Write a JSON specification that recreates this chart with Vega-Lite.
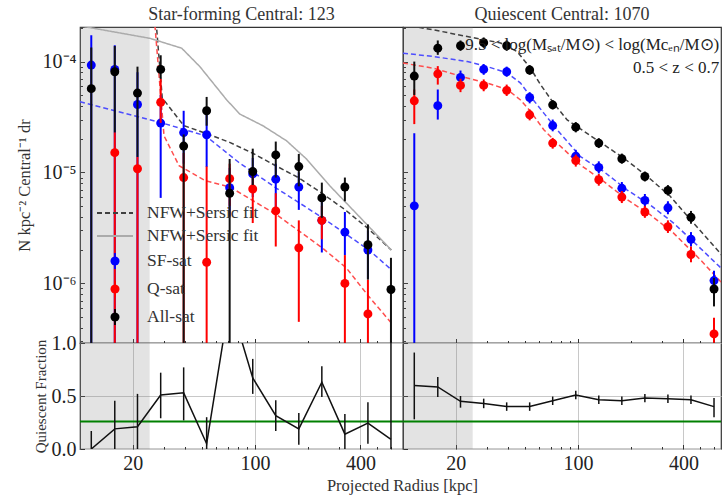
{
"$schema": "https://vega.github.io/schema/vega-lite/v6.json",
"padding": {"left": 15, "top": 5, "right": 0, "bottom": 0},
"datasets": {
"shade": [{"r1": 10, "r2": 25}],
"qfall": [{"panel": "SF", "f": 0.26}, {"panel": "Q", "f": 0.26}],
"pts": [
{"panel":"SF","series":"All-sat","r":11.6,"n":5.7e-5,"lo":1e-8,"hi":1.34e-4},
{"panel":"SF","series":"All-sat","r":15.8,"n":8.1e-5,"lo":2.3e-5,"hi":1.38e-4},
{"panel":"SF","series":"All-sat","r":21.3,"n":5.2e-5,"lo":1.38e-5,"hi":9.0e-5},
{"panel":"SF","series":"All-sat","r":28.9,"n":8.5e-5,"lo":7.0e-5,"hi":1.14e-4},
{"panel":"SF","series":"All-sat","r":39.1,"n":1.73e-5,"lo":1e-8,"hi":2.2e-5},
{"panel":"SF","series":"All-sat","r":52.9,"n":3.6e-5,"lo":2.64e-5,"hi":4.8e-5},
{"panel":"SF","series":"All-sat","r":71.6,"n":6.5e-6,"lo":1e-8,"hi":1.32e-5},
{"panel":"SF","series":"All-sat","r":97.0,"n":1.02e-5,"lo":7.7e-6,"hi":1.64e-5},
{"panel":"SF","series":"All-sat","r":131.3,"n":1.44e-5,"lo":9.0e-6,"hi":1.9e-5},
{"panel":"SF","series":"All-sat","r":177.8,"n":1.13e-5,"lo":7.5e-6,"hi":1.47e-5},
{"panel":"SF","series":"All-sat","r":240.7,"n":5.9e-6,"lo":3.9e-6,"hi":8.1e-6},
{"panel":"SF","series":"All-sat","r":325.9,"n":7.4e-6,"lo":5.5e-6,"hi":9.0e-6},
{"panel":"SF","series":"All-sat","r":441.3,"n":2.23e-6,"lo":1.08e-6,"hi":3.4e-6},
{"panel":"SF","series":"All-sat","r":597.5,"n":8.8e-7,"lo":1e-8,"hi":1.7e-6},
{"panel":"SF","series":"SF-sat","r":11.6,"n":9.3e-5,"lo":1e-8,"hi":1.73e-4},
{"panel":"SF","series":"SF-sat","r":15.8,"n":8.5e-5,"lo":1e-8,"hi":1.4e-4},
{"panel":"SF","series":"SF-sat","r":21.3,"n":4.1e-5,"lo":1e-8,"hi":8.0e-5},
{"panel":"SF","series":"SF-sat","r":28.9,"n":2.79e-5,"lo":5.9e-6,"hi":5.0e-5},
{"panel":"SF","series":"SF-sat","r":39.1,"n":2.29e-5,"lo":1.2e-5,"hi":3.6e-5},
{"panel":"SF","series":"SF-sat","r":52.9,"n":2.19e-5,"lo":1.12e-5,"hi":3.3e-5},
{"panel":"SF","series":"SF-sat","r":71.6,"n":7.3e-6,"lo":4.0e-6,"hi":1.1e-5},
{"panel":"SF","series":"SF-sat","r":97.0,"n":9.7e-6,"lo":6.0e-6,"hi":1.35e-5},
{"panel":"SF","series":"SF-sat","r":131.3,"n":8.7e-6,"lo":4.6e-6,"hi":1.2e-5},
{"panel":"SF","series":"SF-sat","r":177.8,"n":7.4e-6,"lo":4.6e-6,"hi":1.0e-5},
{"panel":"SF","series":"SF-sat","r":240.7,"n":3.7e-6,"lo":1.9e-6,"hi":5.5e-6},
{"panel":"SF","series":"SF-sat","r":325.9,"n":2.9e-6,"lo":1.8e-6,"hi":4.4e-6},
{"panel":"SF","series":"SF-sat","r":441.3,"n":2.0e-6,"lo":1.1e-6,"hi":3.0e-6},
{"panel":"SF","series":"Q-sat","r":15.8,"n":1.51e-5,"lo":1e-8,"hi":2.3e-5},
{"panel":"SF","series":"Q-sat","r":21.3,"n":1.08e-5,"lo":1e-8,"hi":1.38e-5},
{"panel":"SF","series":"Q-sat","r":28.9,"n":4.3e-5,"lo":2.8e-5,"hi":7.0e-5},
{"panel":"SF","series":"Q-sat","r":39.1,"n":9.0e-6,"lo":1e-8,"hi":1.5e-5},
{"panel":"SF","series":"Q-sat","r":52.9,"n":1.55e-6,"lo":1e-8,"hi":1.13e-5},
{"panel":"SF","series":"Q-sat","r":71.6,"n":8.8e-6,"lo":5.0e-6,"hi":1.2e-5},
{"panel":"SF","series":"Q-sat","r":97.0,"n":7.1e-6,"lo":3.5e-6,"hi":1.0e-5},
{"panel":"SF","series":"Q-sat","r":131.3,"n":4.5e-6,"lo":2.15e-6,"hi":6.5e-6},
{"panel":"SF","series":"Q-sat","r":177.8,"n":2.09e-6,"lo":4.5e-7,"hi":3.7e-6},
{"panel":"SF","series":"Q-sat","r":240.7,"n":3.7e-6,"lo":2.5e-6,"hi":5.0e-6},
{"panel":"SF","series":"Q-sat","r":325.9,"n":1.0e-6,"lo":1e-8,"hi":1.8e-6},
{"panel":"SF","series":"Q-sat","r":441.3,"n":5.3e-7,"lo":1e-8,"hi":1.08e-6},
{"panel":"Q","series":"All-sat","r":11.6,"n":7.4e-5,"lo":5.0e-5,"hi":1.0e-4},
{"panel":"Q","series":"All-sat","r":15.8,"n":1.32e-4,"lo":1.15e-4,"hi":1.55e-4},
{"panel":"Q","series":"All-sat","r":21.3,"n":1.39e-4,"lo":1.25e-4,"hi":1.55e-4},
{"panel":"Q","series":"All-sat","r":28.9,"n":1.48e-4,"lo":1.33e-4,"hi":1.65e-4},
{"panel":"Q","series":"All-sat","r":39.1,"n":1.39e-4,"lo":1.25e-4,"hi":1.55e-4},
{"panel":"Q","series":"All-sat","r":52.9,"n":8.4e-5,"lo":7.6e-5,"hi":9.3e-5},
{"panel":"Q","series":"All-sat","r":71.6,"n":4.07e-5,"lo":3.7e-5,"hi":4.5e-5},
{"panel":"Q","series":"All-sat","r":97.0,"n":2.56e-5,"lo":2.3e-5,"hi":2.85e-5},
{"panel":"Q","series":"All-sat","r":131.3,"n":1.84e-5,"lo":1.66e-5,"hi":2.04e-5},
{"panel":"Q","series":"All-sat","r":177.8,"n":1.33e-5,"lo":1.2e-5,"hi":1.48e-5},
{"panel":"Q","series":"All-sat","r":240.7,"n":9.2e-6,"lo":8.3e-6,"hi":1.02e-5},
{"panel":"Q","series":"All-sat","r":325.9,"n":6.9e-6,"lo":6.2e-6,"hi":7.7e-6},
{"panel":"Q","series":"All-sat","r":441.3,"n":3.94e-6,"lo":3.45e-6,"hi":4.5e-6},
{"panel":"Q","series":"All-sat","r":597.5,"n":8.9e-7,"lo":6.2e-7,"hi":1.12e-6},
{"panel":"Q","series":"SF-sat","r":11.6,"n":5.0e-6,"lo":1e-8,"hi":2.26e-5},
{"panel":"Q","series":"SF-sat","r":15.8,"n":4.0e-5,"lo":3.0e-5,"hi":5.6e-5},
{"panel":"Q","series":"SF-sat","r":21.3,"n":7.2e-5,"lo":6.2e-5,"hi":8.3e-5},
{"panel":"Q","series":"SF-sat","r":28.9,"n":8.5e-5,"lo":7.6e-5,"hi":9.5e-5},
{"panel":"Q","series":"SF-sat","r":39.1,"n":8.1e-5,"lo":7.3e-5,"hi":9.0e-5},
{"panel":"Q","series":"SF-sat","r":52.9,"n":4.74e-5,"lo":4.2e-5,"hi":5.3e-5},
{"panel":"Q","series":"SF-sat","r":71.6,"n":2.65e-5,"lo":2.35e-5,"hi":3.0e-5},
{"panel":"Q","series":"SF-sat","r":97.0,"n":1.4e-5,"lo":1.22e-5,"hi":1.6e-5},
{"panel":"Q","series":"SF-sat","r":131.3,"n":1.11e-5,"lo":9.8e-6,"hi":1.26e-5},
{"panel":"Q","series":"SF-sat","r":177.8,"n":7.2e-6,"lo":6.3e-6,"hi":8.2e-6},
{"panel":"Q","series":"SF-sat","r":240.7,"n":5.6e-6,"lo":4.9e-6,"hi":6.4e-6},
{"panel":"Q","series":"SF-sat","r":325.9,"n":4.8e-6,"lo":4.2e-6,"hi":5.5e-6},
{"panel":"Q","series":"SF-sat","r":441.3,"n":2.5e-6,"lo":2.15e-6,"hi":2.9e-6},
{"panel":"Q","series":"SF-sat","r":597.5,"n":1.06e-6,"lo":9.7e-7,"hi":1.3e-6},
{"panel":"Q","series":"Q-sat","r":11.6,"n":4.43e-5,"lo":2.73e-5,"hi":5.6e-5},
{"panel":"Q","series":"Q-sat","r":15.8,"n":7.75e-5,"lo":6.2e-5,"hi":9.1e-5},
{"panel":"Q","series":"Q-sat","r":21.3,"n":6.1e-5,"lo":5.3e-5,"hi":7.0e-5},
{"panel":"Q","series":"Q-sat","r":28.9,"n":6.1e-5,"lo":5.4e-5,"hi":6.9e-5},
{"panel":"Q","series":"Q-sat","r":39.1,"n":5.5e-5,"lo":4.9e-5,"hi":6.2e-5},
{"panel":"Q","series":"Q-sat","r":52.9,"n":3.31e-5,"lo":2.95e-5,"hi":3.7e-5},
{"panel":"Q","series":"Q-sat","r":71.6,"n":1.84e-5,"lo":1.64e-5,"hi":2.05e-5},
{"panel":"Q","series":"Q-sat","r":97.0,"n":1.28e-5,"lo":1.13e-5,"hi":1.45e-5},
{"panel":"Q","series":"Q-sat","r":131.3,"n":8.6e-6,"lo":7.6e-6,"hi":9.7e-6},
{"panel":"Q","series":"Q-sat","r":177.8,"n":6.0e-6,"lo":5.3e-6,"hi":6.8e-6},
{"panel":"Q","series":"Q-sat","r":240.7,"n":4.4e-6,"lo":3.9e-6,"hi":5.0e-6},
{"panel":"Q","series":"Q-sat","r":325.9,"n":3.24e-6,"lo":2.85e-6,"hi":3.7e-6},
{"panel":"Q","series":"Q-sat","r":441.3,"n":1.82e-6,"lo":1.55e-6,"hi":2.15e-6},
{"panel":"Q","series":"Q-sat","r":597.5,"n":3.5e-7,"lo":1e-8,"hi":4.9e-7}
],
"fits": [
{"panel":"SF","series":"NFW+Sersic fit","r":25,"n":1.2e-3},
{"panel":"SF","series":"NFW+Sersic fit","r":29.5,"n":4.7e-5},
{"panel":"SF","series":"NFW+Sersic fit","r":39.1,"n":2.65e-5},
{"panel":"SF","series":"NFW+Sersic fit","r":52.9,"n":2.24e-5},
{"panel":"SF","series":"NFW+Sersic fit","r":71.6,"n":1.87e-5},
{"panel":"SF","series":"NFW+Sersic fit","r":97.0,"n":1.49e-5},
{"panel":"SF","series":"NFW+Sersic fit","r":131.3,"n":1.15e-5},
{"panel":"SF","series":"NFW+Sersic fit","r":177.8,"n":8.95e-6},
{"panel":"SF","series":"NFW+Sersic fit","r":240.7,"n":6.5e-6},
{"panel":"SF","series":"NFW+Sersic fit","r":325.9,"n":4.63e-6},
{"panel":"SF","series":"NFW+Sersic fit","r":441.3,"n":3.13e-6},
{"panel":"SF","series":"NFW+Sersic fit","r":600,"n":2.0e-6},
{"panel":"SF","series":"NFW+Sersic fit ","r":10,"n":2.1e-4},
{"panel":"SF","series":"NFW+Sersic fit ","r":25.1,"n":1.62e-4},
{"panel":"SF","series":"NFW+Sersic fit ","r":38.1,"n":1.32e-4},
{"panel":"SF","series":"NFW+Sersic fit ","r":48.4,"n":9.0e-5},
{"panel":"SF","series":"NFW+Sersic fit ","r":68.8,"n":4.52e-5},
{"panel":"SF","series":"NFW+Sersic fit ","r":81.9,"n":3.36e-5},
{"panel":"SF","series":"NFW+Sersic fit ","r":111.3,"n":2.63e-5},
{"panel":"SF","series":"NFW+Sersic fit ","r":151.3,"n":1.93e-5},
{"panel":"SF","series":"NFW+Sersic fit ","r":197,"n":1.32e-5},
{"panel":"SF","series":"NFW+Sersic fit ","r":267,"n":7.6e-6},
{"panel":"SF","series":"NFW+Sersic fit ","r":600,"n":2.0e-6},
{"panel":"SF","series":"SF fit","r":10,"n":4.34e-5},
{"panel":"SF","series":"SF fit","r":28.9,"n":2.82e-5},
{"panel":"SF","series":"SF fit","r":52.2,"n":2.14e-5},
{"panel":"SF","series":"SF fit","r":80.9,"n":1.23e-5},
{"panel":"SF","series":"SF fit","r":132.7,"n":7.2e-6},
{"panel":"SF","series":"SF fit","r":243,"n":3.9e-6},
{"panel":"SF","series":"SF fit","r":447,"n":2.0e-6},
{"panel":"SF","series":"SF fit","r":600,"n":1.33e-6},
{"panel":"SF","series":"Q fit","r":25,"n":8e-4},
{"panel":"SF","series":"Q fit","r":26.8,"n":2.1e-4},
{"panel":"SF","series":"Q fit","r":30.2,"n":2.14e-5},
{"panel":"SF","series":"Q fit","r":36.8,"n":1.15e-5},
{"panel":"SF","series":"Q fit","r":52.2,"n":8.4e-6},
{"panel":"SF","series":"Q fit","r":71.9,"n":7.4e-6},
{"panel":"SF","series":"Q fit","r":132.7,"n":4.16e-6},
{"panel":"SF","series":"Q fit","r":243,"n":2.08e-6},
{"panel":"SF","series":"Q fit","r":332,"n":1.38e-6},
{"panel":"SF","series":"Q fit","r":447,"n":7.6e-7},
{"panel":"SF","series":"Q fit","r":600,"n":4.4e-7},
{"panel":"Q","series":"NFW+Sersic fit","r":10,"n":2.15e-4},
{"panel":"Q","series":"NFW+Sersic fit","r":15.0,"n":1.93e-4},
{"panel":"Q","series":"NFW+Sersic fit","r":23.3,"n":1.68e-4},
{"panel":"Q","series":"NFW+Sersic fit","r":36.1,"n":1.47e-4},
{"panel":"Q","series":"NFW+Sersic fit","r":44.9,"n":1.23e-4},
{"panel":"Q","series":"NFW+Sersic fit","r":53.5,"n":8.7e-5},
{"panel":"Q","series":"NFW+Sersic fit","r":61.0,"n":6.2e-5},
{"panel":"Q","series":"NFW+Sersic fit","r":72.6,"n":4.2e-5},
{"panel":"Q","series":"NFW+Sersic fit","r":86.6,"n":2.98e-5},
{"panel":"Q","series":"NFW+Sersic fit","r":134,"n":1.87e-5},
{"panel":"Q","series":"NFW+Sersic fit","r":182,"n":1.35e-5},
{"panel":"Q","series":"NFW+Sersic fit","r":247,"n":9.3e-6},
{"panel":"Q","series":"NFW+Sersic fit","r":336,"n":6.1e-6},
{"panel":"Q","series":"NFW+Sersic fit","r":456,"n":3.5e-6},
{"panel":"Q","series":"NFW+Sersic fit","r":647,"n":1.88e-6},
{"panel":"Q","series":"NFW+Sersic fit","r":700,"n":1.6e-6},
{"panel":"Q","series":"SF fit","r":10,"n":1.19e-4},
{"panel":"Q","series":"SF fit","r":15.0,"n":1.11e-4},
{"panel":"Q","series":"SF fit","r":23.3,"n":1.0e-4},
{"panel":"Q","series":"SF fit","r":30.3,"n":9.0e-5},
{"panel":"Q","series":"SF fit","r":39.4,"n":7.9e-5},
{"panel":"Q","series":"SF fit","r":46.9,"n":6.4e-5},
{"panel":"Q","series":"SF fit","r":53.5,"n":4.84e-5},
{"panel":"Q","series":"SF fit","r":63.7,"n":3.43e-5},
{"panel":"Q","series":"SF fit","r":75.9,"n":2.43e-5},
{"panel":"Q","series":"SF fit","r":103.1,"n":1.39e-5},
{"panel":"Q","series":"SF fit","r":140,"n":1.02e-5},
{"panel":"Q","series":"SF fit","r":190,"n":6.98e-6},
{"panel":"Q","series":"SF fit","r":258,"n":5.1e-6},
{"panel":"Q","series":"SF fit","r":351,"n":3.5e-6},
{"panel":"Q","series":"SF fit","r":498,"n":2.08e-6},
{"panel":"Q","series":"SF fit","r":670,"n":1.33e-6},
{"panel":"Q","series":"Q fit","r":10,"n":9.7e-5},
{"panel":"Q","series":"Q fit","r":15.0,"n":8.7e-5},
{"panel":"Q","series":"Q fit","r":23.3,"n":7.1e-5},
{"panel":"Q","series":"Q fit","r":30.3,"n":6.4e-5},
{"panel":"Q","series":"Q fit","r":39.4,"n":5.6e-5},
{"panel":"Q","series":"Q fit","r":46.9,"n":4.5e-5},
{"panel":"Q","series":"Q fit","r":53.5,"n":3.55e-5},
{"panel":"Q","series":"Q fit","r":63.7,"n":2.43e-5},
{"panel":"Q","series":"Q fit","r":75.9,"n":1.84e-5},
{"panel":"Q","series":"Q fit","r":103.1,"n":1.17e-5},
{"panel":"Q","series":"Q fit","r":140,"n":8.3e-6},
{"panel":"Q","series":"Q fit","r":190,"n":5.7e-6},
{"panel":"Q","series":"Q fit","r":258,"n":4.16e-6},
{"panel":"Q","series":"Q fit","r":351,"n":2.84e-6},
{"panel":"Q","series":"Q fit","r":498,"n":1.64e-6},
{"panel":"Q","series":"Q fit","r":670,"n":9.9e-7}
],
"qf": [
{"panel":"SF","r":11.6,"f":0.0,"lo":0.0,"hi":0.17},
{"panel":"SF","r":15.8,"f":0.19,"lo":0.0,"hi":0.455},
{"panel":"SF","r":21.3,"f":0.21,"lo":0.0,"hi":0.52},
{"panel":"SF","r":28.9,"f":0.51,"lo":0.29,"hi":0.72},
{"panel":"SF","r":39.1,"f":0.53,"lo":0.27,"hi":0.77},
{"panel":"SF","r":52.9,"f":0.05,"lo":0.0,"hi":0.30},
{"panel":"SF","r":71.6,"f":1.4,"lo":1.1,"hi":1.7},
{"panel":"SF","r":97.0,"f":0.67,"lo":0.52,"hi":0.85},
{"panel":"SF","r":131.3,"f":0.315,"lo":0.17,"hi":0.46},
{"panel":"SF","r":177.8,"f":0.19,"lo":0.04,"hi":0.34},
{"panel":"SF","r":240.7,"f":0.63,"lo":0.49,"hi":0.78},
{"panel":"SF","r":325.9,"f":0.14,"lo":0.0,"hi":0.33},
{"panel":"SF","r":441.3,"f":0.245,"lo":0.05,"hi":0.44},
{"panel":"SF","r":597.5,"f":0.09,"lo":0.0,"hi":1.1},
{"panel":"Q","r":11.6,"f":0.60,"lo":0.28,"hi":0.91},
{"panel":"Q","r":15.8,"f":0.585,"lo":0.49,"hi":0.68},
{"panel":"Q","r":21.3,"f":0.45,"lo":0.39,"hi":0.50},
{"panel":"Q","r":28.9,"f":0.43,"lo":0.385,"hi":0.475},
{"panel":"Q","r":39.1,"f":0.40,"lo":0.36,"hi":0.44},
{"panel":"Q","r":52.9,"f":0.40,"lo":0.36,"hi":0.44},
{"panel":"Q","r":71.6,"f":0.455,"lo":0.415,"hi":0.495},
{"panel":"Q","r":97.0,"f":0.51,"lo":0.47,"hi":0.55},
{"panel":"Q","r":131.3,"f":0.465,"lo":0.425,"hi":0.505},
{"panel":"Q","r":177.8,"f":0.455,"lo":0.415,"hi":0.495},
{"panel":"Q","r":240.7,"f":0.48,"lo":0.44,"hi":0.52},
{"panel":"Q","r":325.9,"f":0.475,"lo":0.435,"hi":0.515},
{"panel":"Q","r":441.3,"f":0.465,"lo":0.425,"hi":0.505},
{"panel":"Q","r":597.5,"f":0.40,"lo":0.30,"hi":0.48}
]
},
"columns": 2,
"spacing": {"row": 0, "column": 0},
"bounds": "flush",
"resolve": {"scale": {"color": "independent", "strokeDash": "independent"}},
"concat": [
{
"width": 323, "height": 316,
"title": "Star-forming Central: 123",
"resolve": {"axis": {"x": "independent", "y": "independent"}},
"layer": [
{"data": {"name": "shade"}, "mark": {"type": "rect", "color": "#808080", "opacity": 0.22},
 "encoding": {
  "x": {"field": "r1", "type": "quantitative", "scale": {"type": "log", "domain": [10, 700], "nice": false}, "axis": {"orient": "bottom", "values": [20, 100, 400], "labels": false, "title": null}},
  "x2": {"field": "r2"}}},
{"data": {"name": "fits"}, "transform": [{"filter": "datum.panel === 'SF'"}],
 "mark": {"type": "line", "strokeWidth": 1.5, "clip": true},
 "encoding": {
  "x": {"field": "r", "type": "quantitative", "axis": {"orient": "bottom", "values": [30, 40, 50, 60, 70, 80, 90, 200, 300, 500, 600], "labels": false, "title": null, "tickSize": -2.5}},
  "y": {"field": "n", "type": "quantitative", "scale": {"type": "log", "domain": [2.9e-7, 2.05e-4], "nice": false},
        "axis": {"orient": "left", "title": "N kpc⁻² Central⁻¹ dr", "titleFontSize": 16.5, "titlePadding": 10, "values": [1e-6, 1e-5, 1e-4],
                 "labelExpr": "datum.value < 5e-6 ? '10⁻⁶' : datum.value < 5e-5 ? '10⁻⁵' : '10⁻⁴'"}},
  "color": {"field": "series", "type": "nominal",
   "scale": {"domain": ["NFW+Sersic fit", "NFW+Sersic fit ", "SF-sat", "Q-sat", "All-sat", "SF fit", "Q fit"],
             "range": ["#404040", "#ababab", "#0000ff", "#ff0000", "#000000", "#4d4dff", "#ff4d4d"]},
   "legend": {"values": ["NFW+Sersic fit", "NFW+Sersic fit ", "SF-sat", "Q-sat", "All-sat"], "title": null,
     "orient": "none", "legendX": 25, "legendY": 176, "symbolSize": 324, "labelFontSize": 17.5, "labelFont": "Liberation Serif",
     "labelColor": "#333", "labelOffset": 22, "rowPadding": 4, "padding": 0,
     "encode": {"symbols": {"update": {
        "shape": {"signal": "indexof(['SF-sat','Q-sat','All-sat'], datum.value) >= 0 ? 'M-0.4,0A0.4,0.4 0 1,0 0.4,0A0.4,0.4 0 1,0 -0.4,0ZM0,-0.9V0.9' : 'M-2,0H2'"},
        "fill": {"signal": "datum.value === 'SF-sat' ? '#0000ff' : datum.value === 'Q-sat' ? '#ff0000' : datum.value === 'All-sat' ? '#000000' : 'transparent'"},
        "stroke": {"signal": "datum.value === 'SF-sat' ? '#0000ff' : datum.value === 'Q-sat' ? '#ff0000' : datum.value === 'All-sat' ? '#000000' : datum.value === 'NFW+Sersic fit' ? '#404040' : '#ababab'"},
        "strokeDash": {"signal": "datum.value === 'NFW+Sersic fit' ? [5, 3] : [1, 0]"},
        "strokeWidth": {"value": 1.8},
        "opacity": {"value": 1}}}}}},
  "strokeDash": {"field": "series", "type": "nominal", "legend": null,
   "scale": {"domain": ["NFW+Sersic fit", "NFW+Sersic fit ", "SF fit", "Q fit"], "range": [[5, 3], [1, 0], [5, 3], [5, 3]]}}}},
{"data": {"name": "pts"}, "transform": [{"filter": "datum.panel === 'SF' && datum.series === 'SF-sat'"}],
 "mark": {"type": "rule", "color": "#0000ff", "strokeWidth": 2, "clip": true},
 "encoding": {"x": {"field": "r", "type": "quantitative", "axis": null},
  "y": {"field": "lo", "type": "quantitative", "axis": {"orient": "left", "labels": false, "title": null, "tickSize": -2.5,
        "values": [3e-7, 4e-7, 5e-7, 6e-7, 7e-7, 8e-7, 9e-7, 2e-6, 3e-6, 4e-6, 5e-6, 6e-6, 7e-6, 8e-6, 9e-6, 2e-5, 3e-5, 4e-5, 5e-5, 6e-5, 7e-5, 8e-5, 9e-5, 2e-4]}},
  "y2": {"field": "hi"}}},
{"data": {"name": "pts"}, "transform": [{"filter": "datum.panel === 'SF' && datum.series === 'SF-sat'"}],
 "mark": {"type": "point", "filled": true, "shape": "circle", "size": 80, "color": "#0000ff", "opacity": 1, "clip": true},
 "encoding": {"x": {"field": "r", "type": "quantitative", "axis": null}, "y": {"field": "n", "type": "quantitative", "axis": null}}},
{"data": {"name": "pts"}, "transform": [{"filter": "datum.panel === 'SF' && datum.series === 'Q-sat'"}],
 "mark": {"type": "rule", "color": "#ff0000", "strokeWidth": 2, "clip": true},
 "encoding": {"x": {"field": "r", "type": "quantitative", "axis": null}, "y": {"field": "lo", "type": "quantitative", "axis": null}, "y2": {"field": "hi"}}},
{"data": {"name": "pts"}, "transform": [{"filter": "datum.panel === 'SF' && datum.series === 'Q-sat'"}],
 "mark": {"type": "point", "filled": true, "shape": "circle", "size": 80, "color": "#ff0000", "opacity": 1, "clip": true},
 "encoding": {"x": {"field": "r", "type": "quantitative", "axis": null}, "y": {"field": "n", "type": "quantitative", "axis": null}}},
{"data": {"name": "pts"}, "transform": [{"filter": "datum.panel === 'SF' && datum.series === 'All-sat'"}],
 "mark": {"type": "rule", "color": "#111111", "strokeWidth": 2, "clip": true},
 "encoding": {"x": {"field": "r", "type": "quantitative", "axis": null}, "y": {"field": "lo", "type": "quantitative", "axis": null}, "y2": {"field": "hi"}}},
{"data": {"name": "pts"}, "transform": [{"filter": "datum.panel === 'SF' && datum.series === 'All-sat'"}],
 "mark": {"type": "point", "filled": true, "shape": "circle", "size": 80, "color": "#000000", "opacity": 1, "clip": true},
 "encoding": {"x": {"field": "r", "type": "quantitative", "axis": null}, "y": {"field": "n", "type": "quantitative", "axis": null}}}
]
},
{
"width": 318, "height": 316,
"title": "Quiescent Central: 1070",
"resolve": {"axis": {"x": "independent", "y": "independent"}},
"layer": [
{"data": {"name": "shade"}, "mark": {"type": "rect", "color": "#808080", "opacity": 0.22},
 "encoding": {
  "x": {"field": "r1", "type": "quantitative", "scale": {"type": "log", "domain": [10, 655], "nice": false}, "axis": {"orient": "bottom", "values": [20, 100, 400], "labels": false, "title": null}},
  "x2": {"field": "r2"}}},
{"data": {"name": "fits"}, "transform": [{"filter": "datum.panel === 'Q'"}],
 "mark": {"type": "line", "strokeWidth": 1.5, "clip": true},
 "encoding": {
  "x": {"field": "r", "type": "quantitative", "axis": {"orient": "bottom", "values": [30, 40, 50, 60, 70, 80, 90, 200, 300, 500, 600], "labels": false, "title": null, "tickSize": -2.5}},
  "y": {"field": "n", "type": "quantitative", "scale": {"type": "log", "domain": [2.9e-7, 2.05e-4], "nice": false},
        "axis": {"orient": "left", "title": null, "labels": false, "values": [1e-6, 1e-5, 1e-4]}},
  "color": {"field": "series", "type": "nominal", "legend": null,
   "scale": {"domain": ["NFW+Sersic fit", "SF fit", "Q fit"], "range": ["#404040", "#4d4dff", "#ff4d4d"]}},
  "strokeDash": {"field": "series", "type": "nominal", "legend": null,
   "scale": {"domain": ["NFW+Sersic fit", "SF fit", "Q fit"], "range": [[5, 3], [5, 3], [5, 3]]}}}},
{"data": {"name": "pts"}, "transform": [{"filter": "datum.panel === 'Q' && datum.series === 'SF-sat'"}],
 "mark": {"type": "rule", "color": "#0000ff", "strokeWidth": 2, "clip": true},
 "encoding": {"x": {"field": "r", "type": "quantitative", "axis": null},
  "y": {"field": "lo", "type": "quantitative", "axis": {"orient": "left", "labels": false, "title": null, "tickSize": -2.5,
        "values": [3e-7, 4e-7, 5e-7, 6e-7, 7e-7, 8e-7, 9e-7, 2e-6, 3e-6, 4e-6, 5e-6, 6e-6, 7e-6, 8e-6, 9e-6, 2e-5, 3e-5, 4e-5, 5e-5, 6e-5, 7e-5, 8e-5, 9e-5, 2e-4]}},
  "y2": {"field": "hi"}}},
{"data": {"name": "pts"}, "transform": [{"filter": "datum.panel === 'Q' && datum.series === 'SF-sat'"}],
 "mark": {"type": "point", "filled": true, "shape": "circle", "size": 80, "color": "#0000ff", "opacity": 1, "clip": true},
 "encoding": {"x": {"field": "r", "type": "quantitative", "axis": null}, "y": {"field": "n", "type": "quantitative", "axis": null}}},
{"data": {"name": "pts"}, "transform": [{"filter": "datum.panel === 'Q' && datum.series === 'Q-sat'"}],
 "mark": {"type": "rule", "color": "#ff0000", "strokeWidth": 2, "clip": true},
 "encoding": {"x": {"field": "r", "type": "quantitative", "axis": null}, "y": {"field": "lo", "type": "quantitative", "axis": null}, "y2": {"field": "hi"}}},
{"data": {"name": "pts"}, "transform": [{"filter": "datum.panel === 'Q' && datum.series === 'Q-sat'"}],
 "mark": {"type": "point", "filled": true, "shape": "circle", "size": 80, "color": "#ff0000", "opacity": 1, "clip": true},
 "encoding": {"x": {"field": "r", "type": "quantitative", "axis": null}, "y": {"field": "n", "type": "quantitative", "axis": null}}},
{"data": {"name": "pts"}, "transform": [{"filter": "datum.panel === 'Q' && datum.series === 'All-sat'"}],
 "mark": {"type": "rule", "color": "#111111", "strokeWidth": 2, "clip": true},
 "encoding": {"x": {"field": "r", "type": "quantitative", "axis": null}, "y": {"field": "lo", "type": "quantitative", "axis": null}, "y2": {"field": "hi"}}},
{"data": {"name": "pts"}, "transform": [{"filter": "datum.panel === 'Q' && datum.series === 'All-sat'"}],
 "mark": {"type": "point", "filled": true, "shape": "circle", "size": 80, "color": "#000000", "opacity": 1, "clip": true},
 "encoding": {"x": {"field": "r", "type": "quantitative", "axis": null}, "y": {"field": "n", "type": "quantitative", "axis": null}}},
{"data": {"values": [{}]},
 "mark": {"type": "text", "align": "right", "baseline": "top", "fontSize": 17, "font": "Liberation Serif", "lineHeight": 23, "color": "#222222"},
 "encoding": {"x": {"datum": 640, "axis": null}, "y": {"datum": 1.67e-4, "axis": null},
  "text": {"value": ["9.5 < log(Mₛₐₜ/M⊙) < log(Mcₑₙ/M⊙)", "0.5 < z < 0.7"]}}}
]
},
{
"width": 323, "height": 106,
"resolve": {"axis": {"x": "independent", "y": "independent"}},
"layer": [
{"data": {"name": "shade"}, "mark": {"type": "rect", "color": "#808080", "opacity": 0.22},
 "encoding": {
  "x": {"field": "r1", "type": "quantitative", "scale": {"type": "log", "domain": [10, 700], "nice": false},
        "axis": {"orient": "bottom", "values": [20, 100, 400], "format": "d", "grid": true, "title": "Projected Radius [kpc]", "titleFontSize": 16.5,
                 "titleX": 322, "titleY": 36, "titleBaseline": "middle", "titleAlign": "center"}},
  "x2": {"field": "r2"}}},
{"data": {"name": "qfall"}, "transform": [{"filter": "datum.panel === 'SF'"}],
 "mark": {"type": "rule", "color": "#008000", "strokeWidth": 2},
 "encoding": {"y": {"field": "f", "type": "quantitative", "scale": {"domain": [0, 1], "nice": false},
   "axis": {"orient": "left", "values": [0, 0.5, 1], "format": ".1f", "grid": true, "title": "Quiescent Fraction", "titleFontSize": 15, "titlePadding": 3}}}},
{"data": {"name": "qf"}, "transform": [{"filter": "datum.panel === 'SF'"}],
 "mark": {"type": "rule", "color": "#111111", "strokeWidth": 1.5, "clip": true},
 "encoding": {"x": {"field": "r", "type": "quantitative", "axis": {"orient": "bottom", "values": [30, 40, 50, 60, 70, 80, 90, 200, 300, 500, 600], "labels": false, "title": null, "tickSize": -2.5}},
  "y": {"field": "lo", "type": "quantitative", "axis": null}, "y2": {"field": "hi"}}},
{"data": {"name": "qf"}, "transform": [{"filter": "datum.panel === 'SF'"}],
 "mark": {"type": "line", "color": "#111111", "strokeWidth": 1.5, "clip": true},
 "encoding": {"x": {"field": "r", "type": "quantitative", "axis": null}, "y": {"field": "f", "type": "quantitative", "axis": null}}}
]
},
{
"width": 318, "height": 106,
"resolve": {"axis": {"x": "independent", "y": "independent"}},
"layer": [
{"data": {"name": "shade"}, "mark": {"type": "rect", "color": "#808080", "opacity": 0.22},
 "encoding": {
  "x": {"field": "r1", "type": "quantitative", "scale": {"type": "log", "domain": [10, 655], "nice": false},
        "axis": {"orient": "bottom", "values": [20, 100, 400], "format": "d", "grid": true, "title": null}},
  "x2": {"field": "r2"}}},
{"data": {"name": "qfall"}, "transform": [{"filter": "datum.panel === 'Q'"}],
 "mark": {"type": "rule", "color": "#008000", "strokeWidth": 2},
 "encoding": {"y": {"field": "f", "type": "quantitative", "scale": {"domain": [0, 1], "nice": false},
   "axis": {"orient": "left", "values": [0, 0.5, 1], "labels": false, "grid": true, "title": null}}}},
{"data": {"name": "qf"}, "transform": [{"filter": "datum.panel === 'Q'"}],
 "mark": {"type": "rule", "color": "#111111", "strokeWidth": 1.5, "clip": true},
 "encoding": {"x": {"field": "r", "type": "quantitative", "axis": {"orient": "bottom", "values": [30, 40, 50, 60, 70, 80, 90, 200, 300, 500, 600], "labels": false, "title": null, "tickSize": -2.5}},
  "y": {"field": "lo", "type": "quantitative", "axis": null}, "y2": {"field": "hi"}}},
{"data": {"name": "qf"}, "transform": [{"filter": "datum.panel === 'Q'"}],
 "mark": {"type": "line", "color": "#111111", "strokeWidth": 1.5, "clip": true},
 "encoding": {"x": {"field": "r", "type": "quantitative", "axis": null}, "y": {"field": "f", "type": "quantitative", "axis": null}}}
]
}
],
"config": {
 "font": "Liberation Serif",
 "view": {"stroke": "#333333", "strokeWidth": 1.2},
 "axis": {"domain": false, "grid": false, "tickColor": "#333333", "tickWidth": 1, "tickSize": -4.5, "labelPadding": 8.5,
          "labelFont": "Liberation Serif", "titleFont": "Liberation Serif", "labelFontSize": 20, "labelColor": "#222222",
          "titleColor": "#333333", "titleFontWeight": "normal", "gridColor": "#c8c8c8", "gridWidth": 1},
 "title": {"font": "Liberation Serif", "fontSize": 18, "fontWeight": "normal", "color": "#333333", "offset": 3}
}
}
